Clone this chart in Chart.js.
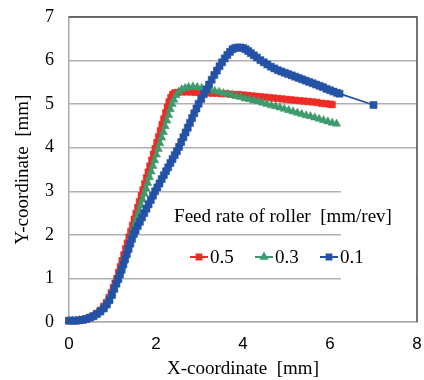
<!DOCTYPE html>
<html>
<head>
<meta charset="utf-8">
<script src="https://cdn.jsdelivr.net/npm/chart.js@4.4.0/dist/chart.umd.min.js"></script>
<style>
  html, body { margin: 0; padding: 0; background: #fff; }
</style>
</head>
<body>
<canvas id="chart" width="424" height="380"></canvas>
<script>
// feed rate of roller [mm/rev]
const labels = ['0.5', '0.3', '0.1'];
const legendTitle = 'Feed rate of roller  [mm/rev]';
const xTicks = [0, 2, 4, 6, 8];
const yTicks = [0, 1, 2, 3, 4, 5, 6, 7];

// 0.5 mm/rev
const x05 = [0, 0.08, 0.16, 0.24, 0.32, 0.4, 0.48, 0.56, 0.64, 0.72, 0.8, 0.86, 0.92, 0.97, 1.02, 1.06,
  1.1, 1.14, 1.18, 1.22, 1.26, 1.3, 1.34, 1.38, 1.42, 1.46, 1.5, 1.54, 1.58, 1.62, 1.66, 1.7, 1.74, 1.78,
  1.82, 1.86, 1.9, 1.94, 1.98, 2.02, 2.06, 2.1, 2.14, 2.18, 2.22, 2.26, 2.3, 2.34, 2.38, 2.43, 2.5, 2.6,
  2.7, 2.8, 2.9, 3.0, 3.1, 3.2, 3.3, 3.4, 3.5, 3.6, 3.7, 3.8, 3.9, 4.0, 4.1, 4.2, 4.3, 4.4, 4.5, 4.6, 4.7,
  4.8, 4.9, 5.0, 5.1, 5.2, 5.3, 5.4, 5.5, 5.6, 5.7, 5.8, 5.9, 6.0, 6.05];
const y05 = [0.03, 0.03, 0.03, 0.04, 0.05, 0.07, 0.1, 0.14, 0.2, 0.27, 0.36, 0.45, 0.56, 0.67, 0.79, 0.89,
  1.0, 1.14, 1.27, 1.41, 1.54, 1.68, 1.81, 1.95, 2.08, 2.22, 2.36, 2.49, 2.63, 2.76, 2.9, 3.03, 3.17, 3.31,
  3.44, 3.58, 3.71, 3.85, 3.98, 4.12, 4.25, 4.39, 4.53, 4.66, 4.8, 4.93, 5.05, 5.15, 5.22, 5.26, 5.27, 5.28,
  5.28, 5.28, 5.27, 5.27, 5.26, 5.26, 5.25, 5.25, 5.24, 5.24, 5.23, 5.22, 5.22, 5.21, 5.2, 5.19, 5.18, 5.17,
  5.16, 5.15, 5.14, 5.13, 5.12, 5.11, 5.1, 5.09, 5.08, 5.07, 5.06, 5.05, 5.04, 5.02, 5.01, 5.0, 4.99];

// 0.3 mm/rev
const x03 = [0, 0.08, 0.16, 0.24, 0.32, 0.4, 0.48, 0.56, 0.64, 0.72, 0.8, 0.86, 0.92, 0.98, 1.03, 1.08,
  1.13, 1.17, 1.21, 1.25, 1.29, 1.33, 1.37, 1.41, 1.45, 1.49, 1.53, 1.57, 1.61, 1.65, 1.69, 1.73, 1.77, 1.81,
  1.85, 1.89, 1.93, 1.97, 2.01, 2.05, 2.09, 2.13, 2.17, 2.21, 2.25, 2.29, 2.33, 2.37, 2.41, 2.46, 2.52, 2.59,
  2.67, 2.75, 2.85, 2.95, 3.05, 3.15, 3.25, 3.35, 3.45, 3.55, 3.65, 3.75, 3.85, 3.95, 4.05, 4.15, 4.25, 4.35,
  4.45, 4.55, 4.65, 4.75, 4.85, 4.95, 5.05, 5.15, 5.25, 5.35, 5.45, 5.55, 5.65, 5.75, 5.85, 5.95, 6.05, 6.15];
const y03 = [0.03, 0.03, 0.03, 0.04, 0.05, 0.07, 0.1, 0.14, 0.19, 0.26, 0.34, 0.43, 0.53, 0.65, 0.76, 0.87,
  1.0, 1.13, 1.26, 1.39, 1.52, 1.65, 1.78, 1.91, 2.03, 2.16, 2.29, 2.42, 2.55, 2.68, 2.81, 2.94, 3.06, 3.19,
  3.32, 3.45, 3.58, 3.71, 3.84, 3.97, 4.1, 4.23, 4.36, 4.49, 4.62, 4.75, 4.88, 5.0, 5.1, 5.2, 5.28, 5.34,
  5.37, 5.39, 5.4, 5.39, 5.37, 5.35, 5.32, 5.3, 5.28, 5.25, 5.23, 5.21, 5.18, 5.16, 5.13, 5.11, 5.08, 5.06,
  5.03, 5.0, 4.97, 4.95, 4.92, 4.89, 4.86, 4.83, 4.8, 4.77, 4.74, 4.72, 4.69, 4.66, 4.63, 4.6, 4.57, 4.55];

// 0.1 mm/rev
const x01 = [0, 0.08, 0.16, 0.24, 0.32, 0.4, 0.48, 0.56, 0.64, 0.72, 0.8, 0.87, 0.93, 0.99, 1.04, 1.09,
  1.13, 1.17, 1.21, 1.25, 1.29, 1.33, 1.37, 1.41, 1.45, 1.49, 1.53, 1.58, 1.63, 1.68, 1.73, 1.78, 1.83, 1.88,
  1.93, 1.98, 2.03, 2.08, 2.13, 2.18, 2.23, 2.28, 2.33, 2.38, 2.43, 2.48, 2.53, 2.58, 2.63, 2.68, 2.73, 2.78,
  2.83, 2.88, 2.93, 2.98, 3.04, 3.1, 3.16, 3.22, 3.28, 3.34, 3.4, 3.46, 3.52, 3.58, 3.64, 3.7, 3.76, 3.82,
  3.88, 3.94, 4.0, 4.06, 4.12, 4.18, 4.25, 4.32, 4.4, 4.48, 4.56, 4.64, 4.72, 4.8, 4.88, 4.96, 5.04, 5.12,
  5.2, 5.28, 5.36, 5.44, 5.52, 5.6, 5.68, 5.76, 5.84, 5.92, 6.0, 6.08, 6.16, 6.22, 7.0];
const y01 = [0.03, 0.03, 0.03, 0.04, 0.05, 0.07, 0.1, 0.13, 0.18, 0.24, 0.31, 0.4, 0.5, 0.62, 0.76, 0.88,
  0.98, 1.09, 1.2, 1.32, 1.44, 1.56, 1.68, 1.8, 1.91, 2.02, 2.1, 2.2, 2.3, 2.4, 2.5, 2.6, 2.7, 2.8,
  2.9, 3.0, 3.09, 3.18, 3.28, 3.37, 3.46, 3.55, 3.65, 3.74, 3.83, 3.92, 4.02, 4.13, 4.24, 4.35, 4.46, 4.57,
  4.68, 4.79, 4.9, 5.01, 5.12, 5.23, 5.34, 5.45, 5.56, 5.67, 5.77, 5.87, 5.96, 6.05, 6.13, 6.2, 6.26, 6.29,
  6.3, 6.3, 6.29, 6.26, 6.22, 6.17, 6.12, 6.07, 6.01, 5.96, 5.91, 5.86, 5.82, 5.78, 5.75, 5.72, 5.69, 5.66,
  5.63, 5.6, 5.57, 5.54, 5.51, 5.48, 5.45, 5.42, 5.39, 5.35, 5.32, 5.29, 5.26, 5.24, 4.98];

const colors = ['#EE2B25', '#3E9A6C', '#2452A6'];
const styles = ['rect', 'triangle', 'rect'];
const radii = [4.6, 4.8, 5];

const pts = (xs, ys) => xs.map((v, i) => ({ x: v, y: ys[i] }));
const series = [pts(x05, y05), pts(x03, y03), pts(x01, y01)];

const serif = '"Liberation Serif", "Times New Roman", serif';
const sans = '"Liberation Sans", Arial, sans-serif';

// no extra room around the axes, the layout padding decides the plot box
const noPad = (s) => { s.paddingLeft = 0; s.paddingRight = 0; s.paddingTop = 0; s.paddingBottom = 0; };

// the outer frame: top and right edges are darker than the axes
// and the grid is hidden in the lower right corner
const framePlugin = {
  id: 'frame',
  beforeDatasetsDraw(chart) {
    const { ctx, chartArea: a, scales: { x, y } } = chart;
    const left = x.getPixelForValue(6.25);
    const top = y.getPixelForValue(3.4);
    const bottom = y.getPixelForValue(0.03);
    ctx.save();
    ctx.fillStyle = '#fff';
    ctx.fillRect(left, top, a.right - left - 1, bottom - top);
    ctx.restore();
  },
  afterDraw(chart) {
    const { ctx, chartArea: a } = chart;
    ctx.save();
    ctx.strokeStyle = '#4a4a4a';
    ctx.lineWidth = 1.5;
    ctx.beginPath();
    ctx.moveTo(a.left, a.top);
    ctx.lineTo(a.right, a.top);
    ctx.lineTo(a.right, a.bottom);
    ctx.stroke();
    ctx.restore();
  }
};

// legend sitting inside the plot, title on top
const legendPlugin = {
  id: 'innerLegend',
  afterDraw(chart) {
    const ctx = chart.ctx;
    ctx.save();
    ctx.font = '19px ' + serif;
    ctx.fillStyle = '#000';
    ctx.textAlign = 'center';
    ctx.textBaseline = 'middle';
    ctx.fillText(legendTitle, 283, 217);
    ctx.textAlign = 'left';
    const itemX = [190, 255, 320];
    chart.data.datasets.forEach((ds, i) => {
      const x0 = itemX[i], y0 = 257;
      ctx.strokeStyle = ds.borderColor;
      ctx.fillStyle = ds.borderColor;
      ctx.lineWidth = 2;
      ctx.beginPath();
      ctx.moveTo(x0, y0);
      ctx.lineTo(x0 + 18, y0);
      ctx.stroke();
      Chart.helpers.drawPoint(ctx, { pointStyle: ds.pointStyle, radius: 3.4, borderWidth: 1, rotation: 0 }, x0 + 9, y0);
      ctx.fillStyle = '#000';
      ctx.fillText(ds.label, x0 + 20, y0 + 1);
    });
    ctx.restore();
  }
};

const data = {
  datasets: labels.map((lab, i) => ({
    label: lab,
    data: series[i],
    showLine: true,
    borderColor: colors[i],
    backgroundColor: colors[i],
    borderWidth: 1.8,
    pointStyle: styles[i],
    pointRadius: radii[i],
    pointBorderWidth: 0.5,
    pointBackgroundColor: colors[i],
    pointBorderColor: colors[i],
    order: 2 - i,
    clip: false
  }))
};

const config = {
  type: 'scatter',
  data: data,
  options: {
    responsive: false,
    animation: false,
    layout: { padding: { left: 0, right: 7, top: 17, bottom: 0 } },
    plugins: {
      legend: { display: false },
      tooltip: { enabled: false }
    },
    scales: {
      x: {
        type: 'linear',
        min: 0,
        max: 8,
        afterBuildTicks: (s) => { s.ticks = xTicks.map(v => ({ value: v })); },
        afterFit: (s) => { s.height = 58; noPad(s); },
        grid: { display: false, drawTicks: false },
        border: { display: true, color: '#ababab', width: 1.5 },
        ticks: { color: '#000', padding: 12, font: { family: sans, size: 17 } },
        title: {
          display: true,
          text: 'X-coordinate  [mm]',
          color: '#000',
          font: { family: serif, size: 19 },
          padding: { top: 0, bottom: 0 }
        }
      },
      y: {
        min: 0,
        max: 7,
        afterBuildTicks: (s) => { s.ticks = yTicks.map(v => ({ value: v })); },
        afterFit: (s) => { s.width = 69; noPad(s); },
        grid: { color: '#b0b0b0', lineWidth: 1.5, drawTicks: false },
        border: { display: true, color: '#ababab', width: 1.5 },
        ticks: { color: '#000', padding: 15, font: { family: serif, size: 18 } },
        title: {
          display: true,
          text: 'Y-coordinate  [mm]',
          color: '#000',
          font: { family: serif, size: 19 },
          padding: { top: 12, bottom: 0 }
        }
      }
    }
  },
  plugins: [framePlugin, legendPlugin]
};

new Chart(document.getElementById('chart'), config);
</script>
</body>
</html>
